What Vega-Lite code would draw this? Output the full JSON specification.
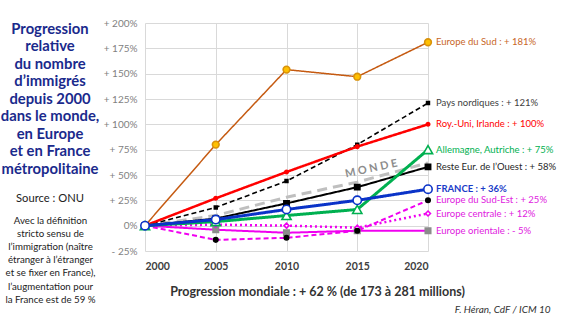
{
  "$schema": "https://vega.github.io/schema/vega-lite/v6.json",
  "width": 283,
  "height": 228,
  "autosize": "none",
  "padding": {"left": 145, "top": 23, "right": 137, "bottom": 70},
  "background": "white",
  "config": {"font": "Lato", "view": {"stroke": null}},
  "title": {
    "text": ["Progression", "relative", "du nombre", "d’immigrés", "depuis 2000", "dans le monde,", "en Europe", "et en France", "métropolitaine"],
    "subtitle": "Source : ONU",
    "orient": "top",
    "anchor": "start",
    "frame": "group",
    "align": "center",
    "baseline": "top",
    "dx": -95,
    "dy": 185.7,
    "offset": 0,
    "fontSize": 14.8,
    "fontWeight": "bold",
    "color": "#1A2A8C",
    "lineHeight": 17.5,
    "subtitleFontSize": 11.2,
    "subtitleColor": "#222222",
    "subtitlePadding": 16
  },
  "datasets": {
    "lines": [
      {"series": "MONDE", "year": 2000, "value": 0},
      {"series": "MONDE", "year": 2005, "value": 10},
      {"series": "MONDE", "year": 2010, "value": 28},
      {"series": "MONDE", "year": 2015, "value": 43},
      {"series": "MONDE", "year": 2020, "value": 62},
      {"series": "Europe orientale", "year": 2000, "value": 0},
      {"series": "Europe orientale", "year": 2005, "value": -4},
      {"series": "Europe orientale", "year": 2010, "value": -7},
      {"series": "Europe orientale", "year": 2015, "value": -5},
      {"series": "Europe orientale", "year": 2020, "value": -5},
      {"series": "Europe centrale", "year": 2000, "value": 0},
      {"series": "Europe centrale", "year": 2005, "value": 1},
      {"series": "Europe centrale", "year": 2010, "value": 0},
      {"series": "Europe centrale", "year": 2015, "value": -2},
      {"series": "Europe centrale", "year": 2020, "value": 12},
      {"series": "Europe du Sud-Est", "year": 2000, "value": 0},
      {"series": "Europe du Sud-Est", "year": 2005, "value": -14},
      {"series": "Europe du Sud-Est", "year": 2010, "value": -12},
      {"series": "Europe du Sud-Est", "year": 2015, "value": -5},
      {"series": "Europe du Sud-Est", "year": 2020, "value": 25},
      {"series": "Europe du Sud", "year": 2000, "value": 0},
      {"series": "Europe du Sud", "year": 2005, "value": 80},
      {"series": "Europe du Sud", "year": 2010, "value": 154},
      {"series": "Europe du Sud", "year": 2015, "value": 147},
      {"series": "Europe du Sud", "year": 2020, "value": 181},
      {"series": "Pays nordiques", "year": 2000, "value": 0},
      {"series": "Pays nordiques", "year": 2005, "value": 18},
      {"series": "Pays nordiques", "year": 2010, "value": 44},
      {"series": "Pays nordiques", "year": 2015, "value": 80},
      {"series": "Pays nordiques", "year": 2020, "value": 121},
      {"series": "Roy.-Uni, Irlande", "year": 2000, "value": 0},
      {"series": "Roy.-Uni, Irlande", "year": 2005, "value": 27},
      {"series": "Roy.-Uni, Irlande", "year": 2010, "value": 53},
      {"series": "Roy.-Uni, Irlande", "year": 2015, "value": 78},
      {"series": "Roy.-Uni, Irlande", "year": 2020, "value": 100},
      {"series": "Reste Eur. de l'Ouest", "year": 2000, "value": 0},
      {"series": "Reste Eur. de l'Ouest", "year": 2005, "value": 7},
      {"series": "Reste Eur. de l'Ouest", "year": 2010, "value": 22},
      {"series": "Reste Eur. de l'Ouest", "year": 2015, "value": 38},
      {"series": "Reste Eur. de l'Ouest", "year": 2020, "value": 58},
      {"series": "Allemagne, Autriche", "year": 2000, "value": 0},
      {"series": "Allemagne, Autriche", "year": 2005, "value": 4},
      {"series": "Allemagne, Autriche", "year": 2010, "value": 10},
      {"series": "Allemagne, Autriche", "year": 2015, "value": 16},
      {"series": "Allemagne, Autriche", "year": 2020, "value": 75},
      {"series": "FRANCE", "year": 2000, "value": 0},
      {"series": "FRANCE", "year": 2005, "value": 6},
      {"series": "FRANCE", "year": 2010, "value": 16},
      {"series": "FRANCE", "year": 2015, "value": 25},
      {"series": "FRANCE", "year": 2020, "value": 36}
    ],
    "labels": [
      {"series": "Europe du Sud", "year": 2020, "value": 181, "label": "Europe du Sud : + 181%"},
      {"series": "Pays nordiques", "year": 2020, "value": 121, "label": "Pays nordiques : + 121%"},
      {"series": "Roy.-Uni, Irlande", "year": 2020, "value": 100, "label": "Roy.-Uni, Irlande : + 100%"},
      {"series": "Allemagne, Autriche", "year": 2020, "value": 75, "label": "Allemagne, Autriche : + 75%"},
      {"series": "Reste Eur. de l'Ouest", "year": 2020, "value": 58, "label": "Reste Eur. de l’Ouest : + 58%"},
      {"series": "FRANCE", "year": 2020, "value": 36, "label": "FRANCE : + 36%"},
      {"series": "Europe du Sud-Est", "year": 2020, "value": 25, "label": "Europe du Sud-Est : + 25%"},
      {"series": "Europe centrale", "year": 2020, "value": 12, "label": "Europe centrale : + 12%"},
      {"series": "Europe orientale", "year": 2020, "value": -5, "label": "Europe orientale : - 5%"}
    ],
    "monde": [
      {"year": 2016, "value": 56, "text": "M O N D E"}
    ]
  },
  "resolve": {"scale": {"color": "independent"}, "axis": {"y": "independent"}},
  "layer": [
    {
      "data": {"name": "lines"},
      "mark": {"type": "line", "strokeCap": "butt"},
      "encoding": {
        "x": {
          "field": "year", "type": "quantitative",
          "scale": {"domain": [2000, 2020]},
          "axis": {
            "values": [2000, 2005, 2010, 2015, 2020], "format": "d",
            "labelFontWeight": "bold", "labelFontSize": 10.5, "labelColor": "#404040", "labelPadding": 10,
            "ticks": false, "domain": false, "grid": true, "gridColor": "#D9D9D9",
            "title": "Progression mondiale : + 62 % (de 173 à 281 millions)",
            "titleFontSize": 12.5, "titleFontWeight": "bold", "titleColor": "#333333",
            "titleX": 172, "titleY": 40, "titleAlign": "center", "titleBaseline": "middle"
          }
        },
        "y": {
          "field": "value", "type": "quantitative",
          "scale": {"domain": [-25, 200], "nice": false},
          "axis": {
            "values": [-25, 0, 25, 50, 75, 100, 125, 150, 175, 200],
            "labelExpr": "datum.value > 0 ? '+ ' + datum.value + '%' : (datum.value < 0 ? '- ' + (-datum.value) + '%' : '0%')",
            "labelColor": "#7F7F7F", "labelFontSize": 10, "labelPadding": 8,
            "ticks": false, "domain": false, "grid": true, "gridColor": "#D9D9D9",
            "title": ["Avec la définition", "stricto sensu de", "l’immigration (naître", "étranger à l’étranger", "et se fixer en France),", "l’augmentation pour", "la France est de 59 %"],
            "titleAngle": 0, "titleX": -95, "titleY": 192, "titleAlign": "center", "titleBaseline": "top",
            "titleFontSize": 9.7, "titleFontWeight": "normal", "titleColor": "#222222", "titleLineHeight": 13.2
          }
        },
        "color": {
          "field": "series", "type": "nominal", "legend": null,
          "scale": {
            "domain": ["MONDE", "Europe orientale", "Europe centrale", "Europe du Sud-Est", "Europe du Sud", "Pays nordiques", "Roy.-Uni, Irlande", "Reste Eur. de l'Ouest", "Allemagne, Autriche", "FRANCE"],
            "range": ["#BFBFBF", "#F000F0", "#F000F0", "#F000F0", "#C55A11", "#000000", "#FF0000", "#000000", "#00B050", "#0A33C8"]
          }
        },
        "strokeDash": {
          "field": "series", "type": "nominal", "legend": null,
          "scale": {
            "domain": ["MONDE", "Europe orientale", "Europe centrale", "Europe du Sud-Est", "Europe du Sud", "Pays nordiques", "Roy.-Uni, Irlande", "Reste Eur. de l'Ouest", "Allemagne, Autriche", "FRANCE"],
            "range": [[10, 6], [1, 0], [2, 3], [5, 3], [1, 0], [5, 3], [1, 0], [1, 0], [1, 0], [1, 0]]
          }
        },
        "strokeWidth": {
          "field": "series", "type": "nominal", "legend": null,
          "scale": {
            "type": "ordinal",
            "domain": ["MONDE", "Europe orientale", "Europe centrale", "Europe du Sud-Est", "Europe du Sud", "Pays nordiques", "Roy.-Uni, Irlande", "Reste Eur. de l'Ouest", "Allemagne, Autriche", "FRANCE"],
            "range": [3, 2, 2.5, 2, 1.5, 1.6, 2.5, 2, 3, 3]
          }
        }
      }
    },
    {
      "data": {"name": "lines"},
      "transform": [{"filter": "datum.series !== 'MONDE'"}],
      "mark": {"type": "point", "filled": true, "strokeWidth": 1.6, "opacity": 1},
      "encoding": {
        "x": {"field": "year", "type": "quantitative"},
        "y": {"field": "value", "type": "quantitative", "axis": null},
        "shape": {
          "field": "series", "type": "nominal", "legend": null,
          "scale": {
            "domain": ["Europe orientale", "Europe centrale", "Europe du Sud-Est", "Europe du Sud", "Pays nordiques", "Roy.-Uni, Irlande", "Reste Eur. de l'Ouest", "Allemagne, Autriche", "FRANCE"],
            "range": ["square", "diamond", "circle", "circle", "square", "circle", "square", "triangle-up", "circle"]
          }
        },
        "fill": {
          "field": "series", "type": "nominal", "legend": null,
          "scale": {
            "domain": ["Europe orientale", "Europe centrale", "Europe du Sud-Est", "Europe du Sud", "Pays nordiques", "Roy.-Uni, Irlande", "Reste Eur. de l'Ouest", "Allemagne, Autriche", "FRANCE"],
            "range": ["#8C8C8C", "#FFFFFF", "#000000", "#FFC000", "#000000", "#FF0000", "#000000", "#FFFFFF", "#FFFFFF"]
          }
        },
        "stroke": {
          "field": "series", "type": "nominal", "legend": null,
          "scale": {
            "domain": ["Europe orientale", "Europe centrale", "Europe du Sud-Est", "Europe du Sud", "Pays nordiques", "Roy.-Uni, Irlande", "Reste Eur. de l'Ouest", "Allemagne, Autriche", "FRANCE"],
            "range": ["#8C8C8C", "#F000F0", "#000000", "#D9920A", "#000000", "#FF0000", "#000000", "#00B050", "#0A33C8"]
          }
        },
        "size": {
          "field": "series", "type": "nominal", "legend": null,
          "scale": {
            "type": "ordinal",
            "domain": ["Europe orientale", "Europe centrale", "Europe du Sud-Est", "Europe du Sud", "Pays nordiques", "Roy.-Uni, Irlande", "Reste Eur. de l'Ouest", "Allemagne, Autriche", "FRANCE"],
            "range": [30, 24, 20, 45, 8, 12, 28, 85, 70]
          }
        }
      }
    },
    {
      "data": {"name": "labels"},
      "transform": [{"filter": "datum.series !== 'FRANCE'"}],
      "mark": {"type": "text", "align": "left", "baseline": "middle", "dx": 8, "fontSize": 9.5},
      "encoding": {
        "x": {"field": "year", "type": "quantitative"},
        "y": {"field": "value", "type": "quantitative", "axis": null},
        "text": {"field": "label"},
        "color": {
          "field": "series", "type": "nominal", "legend": null,
          "scale": {
            "domain": ["Europe orientale", "Europe centrale", "Europe du Sud-Est", "Europe du Sud", "Pays nordiques", "Roy.-Uni, Irlande", "Reste Eur. de l'Ouest", "Allemagne, Autriche"],
            "range": ["#E020E0", "#E020E0", "#E020E0", "#C8661F", "#404040", "#FF0000", "#262626", "#00B050"]
          }
        }
      }
    },
    {
      "data": {"name": "labels"},
      "transform": [{"filter": "datum.series === 'FRANCE'"}],
      "mark": {"type": "text", "align": "left", "baseline": "middle", "dx": 8, "fontSize": 9.5, "fontWeight": "bold", "color": "#1A3CC8"},
      "encoding": {
        "x": {"field": "year", "type": "quantitative"},
        "y": {"field": "value", "type": "quantitative", "axis": null},
        "text": {"field": "label"}
      }
    },
    {
      "data": {"name": "monde"},
      "mark": {"type": "text", "align": "center", "baseline": "middle", "angle": -12, "fontSize": 11, "fontWeight": "bold", "color": "#8C8C8C"},
      "encoding": {
        "x": {"field": "year", "type": "quantitative"},
        "y": {
          "field": "value", "type": "quantitative",
          "axis": {
            "orient": "right", "labels": false, "ticks": false, "domain": false, "grid": false,
            "title": "F. Héran, CdF / ICM  10", "titleAngle": 0, "titleX": 122, "titleY": 286,
            "titleAlign": "right", "titleBaseline": "middle", "titleFontSize": 10,
            "titleFontStyle": "italic", "titleFontWeight": "normal", "titleColor": "#333333"
          }
        },
        "text": {"field": "text"}
      }
    }
  ]
}
